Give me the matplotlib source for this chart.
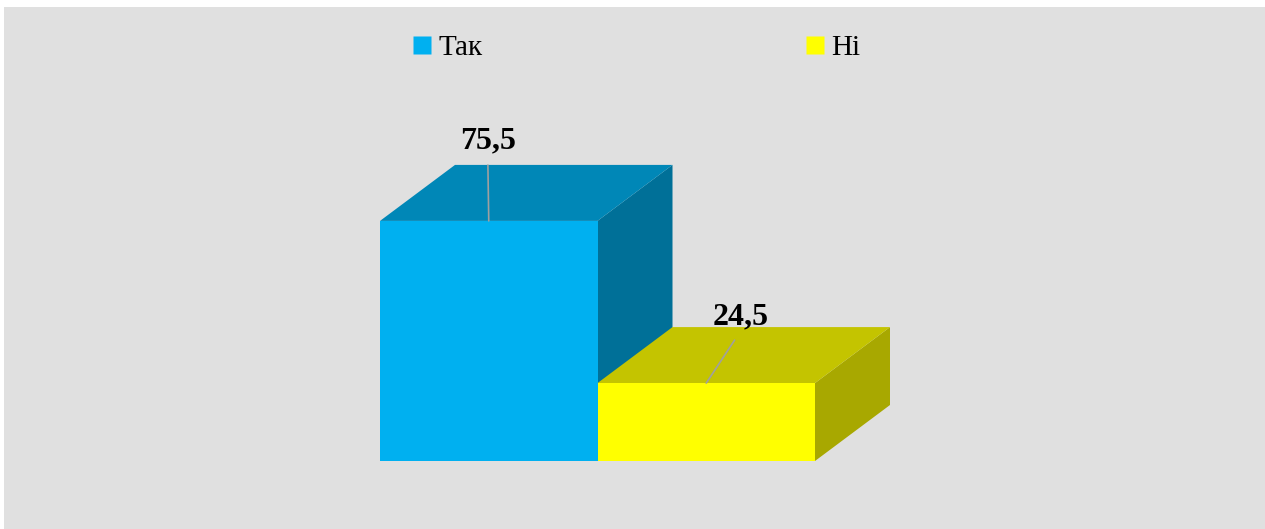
import matplotlib
matplotlib.use('Agg')
import matplotlib.pyplot as plt
from matplotlib.patches import Polygon, Rectangle
from matplotlib.lines import Line2D

# data
categories = ['Так', 'Ні']
values = [75.5, 24.5]
labels = ['75,5', '24,5']

front_colors = ['#00B0F0', '#FFFF00']
top_colors = ['#0087B7', '#C4C400']
side_colors = ['#007098', '#A8A800']

plt.rcParams['font.family'] = ['Liberation Serif', 'DejaVu Serif']

W, H = 1265, 529
fig = plt.figure(figsize=(W / 100, H / 100), dpi=100)
fig.patch.set_facecolor('white')
fig.patches.append(Rectangle((4 / W, 0), 1, (H - 7) / H, transform=fig.transFigure,
                             facecolor='#E0E0E0', edgecolor='none', zorder=-10))

# axes: one unit of x = one bar width, y = percent
ax = fig.add_axes([380 / W, 68 / H, 2.5 * 217.5 / W, 100 * 3.18 / H])
ax.set_xlim(0, 2.5)
ax.set_ylim(0, 100)
ax.axis('off')
ax.patch.set_alpha(0)

dx, dy = 75 / 217.5, 56 / 3.18  # depth of the 3D effect in data units

for i, v in enumerate(values):
    x0, x1 = i, i + 1
    front = [(x0, 0), (x1, 0), (x1, v), (x0, v)]
    top = [(x0, v), (x1, v), (x1 + dx, v + dy), (x0 + dx, v + dy)]
    side = [(x1, 0), (x1 + dx, dy), (x1 + dx, v + dy), (x1, v)]
    ax.add_patch(Polygon(side, closed=True, facecolor=side_colors[i], edgecolor='none', clip_on=False))
    ax.add_patch(Polygon(top, closed=True, facecolor=top_colors[i], edgecolor='none', clip_on=False))
    ax.add_patch(Polygon(front, closed=True, facecolor=front_colors[i], edgecolor='none', clip_on=False))

offsets = [(-1, 80), (34, 66)]
for i, v in enumerate(values):
    ax.annotate(labels[i], xy=(i + 0.5, v), xytext=offsets[i], textcoords='offset pixels',
                ha='center', va='center', fontsize=23, fontweight='bold',
                arrowprops=dict(arrowstyle='-', color='#A0A0A0', lw=1.2, relpos=(0.5, 0),
                                shrinkA=5, shrinkB=0),
                annotation_clip=False)

handles = [Line2D([], [], marker='s', linestyle='none', markersize=12.5,
                  markerfacecolor=c, markeredgecolor='none') for c in front_colors]
fig.legend(handles, categories, loc='center', bbox_to_anchor=(637 / W, 1 - 48 / H),
           ncol=2, frameon=False, fontsize=21, handlelength=0.6, handletextpad=0.25,
           columnspacing=11.1, borderpad=0)

fig.savefig('out.png', dpi=100)
